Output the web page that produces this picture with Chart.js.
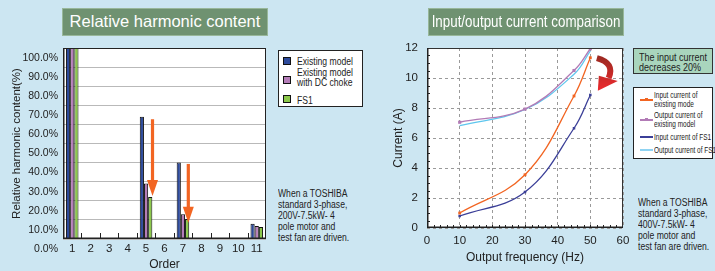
<!DOCTYPE html>
<html><head><meta charset="utf-8">
<script src="https://cdn.jsdelivr.net/npm/chart.js@4.4.0/dist/chart.umd.min.js"></script>
<style>
html,body{margin:0;padding:0;}
body{width:715px;height:271px;background:#cce6f2;position:relative;overflow:hidden;font-family:"Liberation Sans",Arial,sans-serif;color:#222;}
canvas{position:absolute;top:0;}
.title{position:absolute;top:8px;height:28px;background:#6f9271;border:1.5px solid #98b79a;box-sizing:border-box;color:#fff;font-size:16.5px;line-height:25px;white-space:nowrap;overflow:visible;}
.title span{position:absolute;left:50%;top:0;white-space:nowrap;}
.box{position:absolute;background:#fff;border:1px solid #222;box-sizing:border-box;}
.t{position:absolute;white-space:nowrap;transform-origin:0 50%;}
.sw{position:absolute;width:8px;height:8px;border:1px solid #111;box-sizing:border-box;}
.ln{position:absolute;height:1.5px;width:13px;}
.mk{position:absolute;width:3px;height:3px;}
</style>
</head><body>
<canvas id="c1" width="275" height="271" style="left:0"></canvas>
<canvas id="c2" width="275" height="271" style="left:355px"></canvas>

<div class="title" style="left:62px;width:206px;"><span style="transform:translateX(-50%);">Relative harmonic content</span></div>
<div class="title" style="left:428px;width:196px;"><span style="transform:translateX(-50%) scaleX(0.81);">Input/output current comparison</span></div>

<!-- left legend -->
<div class="box" style="left:278px;top:50px;width:85px;height:57px;"></div>
<div class="sw" style="left:283px;top:57px;background:#2d4a9b"></div>
<div class="sw" style="left:283px;top:76px;background:#b47db8"></div>
<div class="sw" style="left:283px;top:95px;background:#8cc84b"></div>
<div class="t" style="left:297px;top:55px;font-size:10.5px;line-height:12px;transform:scaleX(0.82)">Existing model</div>
<div class="t" style="left:297px;top:68px;font-size:10.5px;line-height:9.5px;transform:scaleX(0.82)">Existing model<br>with DC choke</div>
<div class="t" style="left:297px;top:94px;font-size:10.5px;line-height:12px;transform:scaleX(0.82)">FS1</div>

<div class="t" style="left:278px;top:187.5px;font-size:10px;line-height:11px;transform:scaleX(0.86)">When a TOSHIBA<br>standard 3-phase,<br>200V-7.5kW- 4<br>pole motor and<br>test fan are driven.</div>

<!-- right annotation -->
<div class="box" style="left:633px;top:48px;width:80px;height:26px;background:#a9d5bd;border-color:#333;"></div>
<div class="t" style="left:639px;top:53px;font-size:10px;line-height:9.5px;transform:scaleX(0.9)">The input current<br>decreases 20%</div>

<!-- right legend -->
<div class="box" style="left:633px;top:87px;width:80px;height:72px;"></div>
<div class="ln" style="left:640px;top:99px;background:#f26522"></div><div class="mk" style="left:645px;top:98.2px;background:#f26522"></div>
<div class="ln" style="left:640px;top:119px;background:#b27bb6"></div><div class="mk" style="left:645px;top:118.2px;background:#b27bb6"></div>
<div class="ln" style="left:640px;top:136px;background:#3b3f98"></div>
<div class="ln" style="left:640px;top:148.5px;background:#8fd3f2;height:2px"></div>
<div class="t" style="left:654px;top:90px;font-size:9.5px;line-height:9px;transform:scaleX(0.68)">Input current of<br>existing mode</div>
<div class="t" style="left:654px;top:110px;font-size:9.5px;line-height:9px;transform:scaleX(0.68)">Output current of<br>existing model</div>
<div class="t" style="left:654px;top:131px;font-size:9.5px;line-height:11px;transform:scaleX(0.68)">Input current of FS1</div>
<div class="t" style="left:654px;top:143.5px;font-size:9.5px;line-height:11px;transform:scaleX(0.68)">Output current of FS1</div>

<div class="t" style="left:638px;top:197px;font-size:10px;line-height:11px;transform:scaleX(0.86)">When a TOSHIBA<br>standard 3-phase,<br>400V-7.5kW- 4<br>pole motor and<br>test fan are driven.</div>

<script>
// ---- Left chart data: relative harmonic content (%) ----
const ORDERS = ['1','2','3','4','5','6','7','8','9','10','11'];
const EXISTING_MODEL = [100, null, null, null, 64, null, 40, null, null, null, 8];
const DC_CHOKE_MODEL = [100, null, null, null, 29, null, 13, null, null, null, 6.8];
const FS1_MODEL      = [100, null, null, null, 22, null, 10.5, null, null, null, 6.3];

// ---- Right chart data: current (A) vs output frequency (Hz) ----
const FREQ_HZ = [10, 30, 45, 50];
const IN_EXISTING  = [1.0, 3.55, 8.8, 11.35];
const OUT_EXISTING = [7.05, 7.93, 10.5, 11.95];
const IN_FS1       = [0.8, 2.4, 6.65, 8.87];
const OUT_FS1      = [6.82, 7.9, 10.25, 11.8];

// annotation arrows (in data units)
const DOWN_ARROWS = [{x: 4.35, from: 62.7, to: 22.5}, {x: 6.29, from: 39.3, to: 8.5}];

const FONT = '"Liberation Sans", Arial, sans-serif';

const framePlugin = {
  id: 'frame',
  beforeDraw(chart) {
    const {ctx, chartArea: a} = chart;
    ctx.save(); ctx.fillStyle = '#fff';
    ctx.fillRect(a.left, a.top, a.right - a.left, a.bottom - a.top);
    ctx.restore();
  },
  afterDraw(chart, args, o) {
    const {ctx, chartArea: a} = chart;
    ctx.save();
    ctx.strokeStyle = o.color || '#222'; ctx.lineWidth = 1;
    ctx.strokeRect(a.left + 0.5, a.top + 0.5, a.right - a.left - 1, a.bottom - a.top - 1);
    ctx.lineWidth = 1.5; ctx.strokeStyle = '#222';
    ctx.beginPath();
    ctx.moveTo(a.left + 0.75, a.top); ctx.lineTo(a.left + 0.75, a.bottom - 0.75); ctx.lineTo(a.right, a.bottom - 0.75);
    ctx.stroke();
    // inner ticks
    const it = o.ticks || {};
    const xs = chart.scales.x, ys = chart.scales.y;
    ctx.lineWidth = 1; ctx.strokeStyle = '#222';
    ctx.beginPath();
    (it.x || []).forEach(v => { const p = Math.round(xs.getPixelForValue(v)) + 0.5; ctx.moveTo(p, a.bottom); ctx.lineTo(p, a.bottom - it.xLen); });
    (it.y || []).forEach(v => { const p = Math.round(ys.getPixelForValue(v)) + 0.5; ctx.moveTo(a.left, p); ctx.lineTo(a.left + it.yLen, p); });
    ctx.stroke();
    ctx.restore();
  }
};

const downArrows = {
  id: 'downArrows',
  afterDatasetsDraw(chart, args, o) {
    if (!o.list) return;
    const {ctx} = chart; const xs = chart.scales.x, ys = chart.scales.y;
    ctx.save(); ctx.fillStyle = '#f26522';
    o.list.forEach(ar => {
      const x = xs.getPixelForValue(ar.x), y0 = ys.getPixelForValue(ar.from), y1 = ys.getPixelForValue(ar.to);
      ctx.fillRect(x - 1.6, y0, 3.2, (y1 - 15) - y0);
      ctx.beginPath(); ctx.moveTo(x - 5.5, y1 - 16); ctx.lineTo(x + 5.5, y1 - 16); ctx.lineTo(x, y1); ctx.closePath(); ctx.fill();
    });
    ctx.restore();
  }
};

const curvedArrow = {
  id: 'curvedArrow',
  afterDraw(chart, args, o) {
    if (!o.show) return;
    const {ctx} = chart; const xs = chart.scales.x, ys = chart.scales.y;
    const P = (x, y) => [xs.getPixelForValue(x), ys.getPixelForValue(y)];
    const s = P(52.0, 11.33), c = P(57.6, 11.0), e = P(55.6, 10.0);
    const h1 = P(52.6, 10.15), h2 = P(58.4, 9.8), tip = P(52.3, 9.15);
    const g = ctx.createLinearGradient(s[0], s[1], tip[0], tip[1]);
    g.addColorStop(0, '#9e2a22'); g.addColorStop(1, '#ee2a2e');
    ctx.save();
    ctx.strokeStyle = g; ctx.lineWidth = 6; ctx.lineCap = 'butt';
    ctx.beginPath(); ctx.moveTo(s[0], s[1]); ctx.quadraticCurveTo(c[0], c[1], e[0], e[1]); ctx.stroke();
    ctx.fillStyle = g;
    ctx.beginPath(); ctx.moveTo(h1[0], h1[1]); ctx.lineTo(h2[0], h2[1]); ctx.lineTo(tip[0], tip[1]); ctx.closePath(); ctx.fill();
    ctx.restore();
  }
};

const noEdgePad = s => { s.paddingLeft = 0; s.paddingRight = 0; s.paddingTop = 0; s.paddingBottom = 0; };

new Chart(document.getElementById('c1'), {
  type: 'bar',
  data: {
    labels: ORDERS,
    datasets: [
      {label: 'Existing model', data: EXISTING_MODEL, backgroundColor: '#2d4a9b'},
      {label: 'Existing model with DC choke', data: DC_CHOKE_MODEL, backgroundColor: '#b47db8'},
      {label: 'FS1', data: FS1_MODEL, backgroundColor: '#8cc84b'}
    ]
  },
  options: {
    responsive: false, animation: false, devicePixelRatio: 1,
    layout: {padding: {left: 0, right: 9, top: 48, bottom: 0}},
    datasets: {bar: {categoryPercentage: 0.68, barPercentage: 1, borderColor: '#111', borderWidth: 1}},
    plugins: {
      legend: {display: false}, tooltip: {enabled: false},
      frame: {color: '#222', ticks: {x: [0.5,1.5,2.5,3.5,4.5,5.5,6.5,7.5,8.5,9.5], xLen: 6, y: [], yLen: 0}},
      downArrows: {list: DOWN_ARROWS}
    },
    scales: {
      x: {
        offset: true,
        grid: {display: false, drawTicks: false}, border: {display: false},
        ticks: {autoSkip: false, maxRotation: 0, padding: 3, color: '#222', font: {family: FONT, size: 11.5}},
        title: {display: true, text: 'Order', color: '#222', font: {family: FONT, size: 12, lineHeight: 1}, padding: 0},
        afterFit(s) { s.height = 32; noEdgePad(s); }
      },
      y: {
        min: 0, max: 100,
        grid: {color: '#b9b9b9', drawTicks: false}, border: {display: false},
        ticks: {stepSize: 10, labelOffset: 10, padding: 5, color: '#222', font: {family: FONT, size: 10.5},
                callback: v => v.toFixed(1) + '%'},
        title: {display: true, text: 'Relative harmonic content(%)', color: '#222', font: {family: FONT, size: 11.5, lineHeight: 1.1}, padding: {top: 11, bottom: 0}},
        afterFit(s) { s.width = 63; noEdgePad(s); }
      }
    }
  },
  plugins: [framePlugin, downArrows]
});

const pts = arr => FREQ_HZ.map((f, i) => ({x: f, y: arr[i]}));
const minorX = []; for (let v = 2; v < 60; v += 2) minorX.push(v);
const minorY = []; for (let v = 0.5; v < 12; v += 0.5) minorY.push(v);

new Chart(document.getElementById('c2'), {
  type: 'line',
  data: {
    datasets: [
      {label: 'Input current of existing mode', data: pts(IN_EXISTING), borderColor: '#f26522', backgroundColor: '#f26522', pointStyle: 'rect', pointRadius: 2},
      {label: 'Output current of existing model', data: pts(OUT_EXISTING), borderColor: '#b27bb6', backgroundColor: '#b27bb6', pointStyle: 'rect', pointRadius: 2.2},
      {label: 'Input current of FS1', data: pts(IN_FS1), borderColor: '#3b3f98', backgroundColor: '#3b3f98', pointStyle: 'rect', pointRadius: 1.8},
      {label: 'Output current of FS1', data: pts(OUT_FS1), borderColor: '#5ec6ee', backgroundColor: '#5ec6ee', pointRadius: 0}
    ]
  },
  options: {
    responsive: false, animation: false, devicePixelRatio: 1,
    layout: {padding: {left: 0, right: 7, top: 48, bottom: 0}},
    datasets: {line: {borderWidth: 1.3, tension: 0.4, fill: false, pointBorderWidth: 0}},
    plugins: {
      legend: {display: false}, tooltip: {enabled: false},
      frame: {color: '#333', ticks: {x: minorX, xLen: 3, y: minorY, yLen: 3}},
      curvedArrow: {show: true}
    },
    scales: {
      x: {
        type: 'linear', min: 0, max: 60,
        grid: {color: '#9a9a9a', drawTicks: false}, border: {display: false, dash: [3,3]},
        ticks: {stepSize: 10, padding: 6, color: '#222', font: {family: FONT, size: 11.5}},
        title: {display: true, text: 'Output frequency (Hz)', color: '#222', font: {family: FONT, size: 12, lineHeight: 1.2}, padding: {top: 0, bottom: 6}},
        afterFit(s) { s.height = 43; noEdgePad(s); }
      },
      y: {
        min: 0, max: 12,
        grid: {color: '#9a9a9a', drawTicks: false}, border: {display: false, dash: [3,3]},
        ticks: {stepSize: 2, padding: 9, color: '#222', font: {family: FONT, size: 11.5}},
        title: {display: true, text: 'Current (A)', color: '#222', font: {family: FONT, size: 12, lineHeight: 1.2}, padding: {top: 36, bottom: 0}},
        afterFit(s) { s.width = 72; noEdgePad(s); }
      }
    }
  },
  plugins: [framePlugin, curvedArrow]
});
</script>
</body></html>
